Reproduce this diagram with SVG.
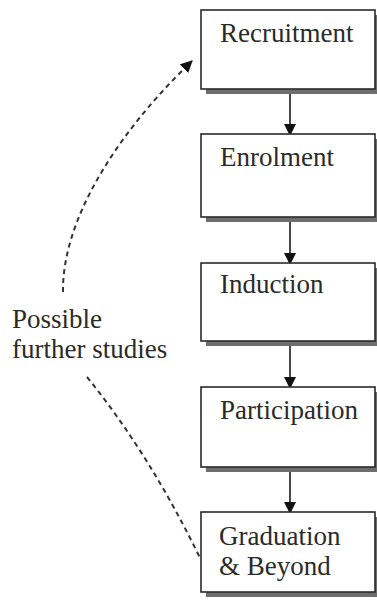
<svg xmlns="http://www.w3.org/2000/svg" width="377" height="601" viewBox="0 0 377 601">
<style>
.box{fill:#fff;stroke:#2a2a2a;stroke-width:1.6}
.shadow{fill:#6e6e6e}
.lbl{fill:#2a2a2a;font-family:'Liberation Serif','Times New Roman',serif;font-size:27px}
.flow{stroke:#1a1a1a;stroke-width:1.6;fill:none}
.dash{stroke:#333;stroke-width:2;fill:none;stroke-dasharray:5 4}
</style>
<defs>
<marker id="ah" markerWidth="12" markerHeight="12" refX="11" refY="6" orient="auto" markerUnits="userSpaceOnUse">
<path d="M0,0 L12,6 L0,12 Z" fill="#111"/>
</marker>
</defs>
<rect width="377" height="601" fill="#fff"/>
<g id="connectors">
<line class="flow" x1="290" y1="93" x2="290" y2="135" marker-end="url(#ah)"/>
<line class="flow" x1="290" y1="221" x2="290" y2="264" marker-end="url(#ah)"/>
<line class="flow" x1="290" y1="345" x2="290" y2="388" marker-end="url(#ah)"/>
<line class="flow" x1="290" y1="471" x2="290" y2="513" marker-end="url(#ah)"/>
<path class="dash" d="M63,292 C62,225 110,140 192,61" marker-end="url(#ah)"/>
<path class="dash" d="M87,377 Q150,455 200,558"/>
</g>
<g id="recruitment">
<rect class="shadow" x="206" y="15" width="171" height="79"/>
<rect class="box" x="201" y="10" width="174" height="79"/>
<text class="lbl" x="220" y="42">Recruitment</text>
</g>
<g id="enrolment">
<rect class="shadow" x="206" y="139" width="171" height="83"/>
<rect class="box" x="201" y="134" width="174" height="83"/>
<text class="lbl" x="220" y="166">Enrolment</text>
</g>
<g id="induction">
<rect class="shadow" x="206" y="268" width="171" height="78"/>
<rect class="box" x="201" y="263" width="174" height="78"/>
<text class="lbl" x="220" y="293">Induction</text>
</g>
<g id="participation">
<rect class="shadow" x="206" y="392" width="171" height="80"/>
<rect class="box" x="201" y="387" width="174" height="80"/>
<text class="lbl" x="220" y="419">Participation</text>
</g>
<g id="graduation">
<rect class="shadow" x="206" y="517" width="171" height="80"/>
<rect class="box" x="201" y="512" width="174" height="80"/>
<text class="lbl" x="219" y="545">Graduation</text>
<text class="lbl" x="219" y="575">&amp; Beyond</text>
</g>
<g id="further-studies">
<text class="lbl" x="12" y="328">Possible</text>
<text class="lbl" x="12" y="358">further studies</text>
</g>
</svg>
